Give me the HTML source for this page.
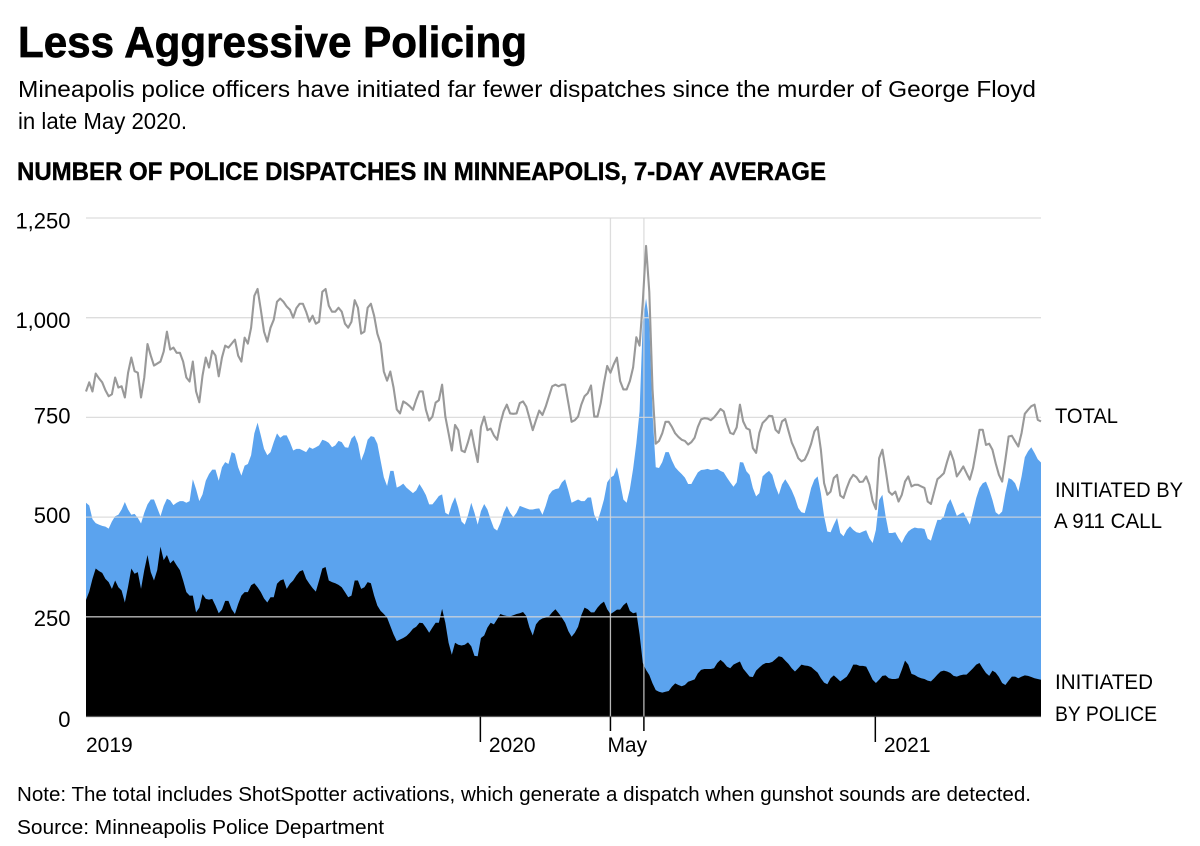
<!DOCTYPE html>
<html lang="en">
<head>
<meta charset="utf-8">
<title>Less Aggressive Policing</title>
<style>
html,body{margin:0;padding:0;background:#fff;width:1200px;height:846px;overflow:hidden}
svg{display:block;font-family:"Liberation Sans",sans-serif;fill:#000}
</style>
</head>
<body>
<svg id="chart" width="1200" height="846" viewBox="0 0 1200 846" xmlns="http://www.w3.org/2000/svg">
  <rect x="0" y="0" width="1200" height="846" fill="#ffffff"/>
  <text x="18" y="57" font-size="44" font-weight="700" stroke="#000" stroke-width="0.7" textLength="509" lengthAdjust="spacingAndGlyphs">Less Aggressive Policing</text>
  <text x="18" y="97" font-size="23" textLength="1018" lengthAdjust="spacingAndGlyphs">Mineapolis police officers have initiated far fewer dispatches since the murder of George Floyd</text>
  <text x="18" y="129" font-size="23" textLength="169" lengthAdjust="spacingAndGlyphs">in late May 2020.</text>
  <text x="17" y="180" font-size="25" font-weight="700" stroke="#000" stroke-width="0.4" textLength="809" lengthAdjust="spacingAndGlyphs">NUMBER OF POLICE DISPATCHES IN MINNEAPOLIS, 7-DAY AVERAGE</text>
  <g id="areas"></g>
  <g id="grid"></g>
  <g id="line"></g>
  <g id="axes"></g>
  <text x="1055" y="423" font-size="21" textLength="63" lengthAdjust="spacingAndGlyphs">TOTAL</text>
  <text x="1055" y="497" font-size="21" textLength="128" lengthAdjust="spacingAndGlyphs">INITIATED BY</text>
  <text x="1054" y="528" font-size="21" textLength="108" lengthAdjust="spacingAndGlyphs">A 911 CALL</text>
  <text x="1055" y="689" font-size="21" textLength="98" lengthAdjust="spacingAndGlyphs">INITIATED</text>
  <text x="1055" y="721" font-size="21" textLength="102" lengthAdjust="spacingAndGlyphs">BY POLICE</text>
  <text x="17" y="801" font-size="20.5" textLength="1014" lengthAdjust="spacingAndGlyphs">Note: The total includes ShotSpotter activations, which generate a dispatch when gunshot sounds are detected.</text>
  <text x="17" y="834" font-size="20.5" textLength="367" lengthAdjust="spacingAndGlyphs">Source: Minneapolis Police Department</text>
</svg>
<script>
// One reading every 3 days, starting 1 Jan 2019.
const sampleStepDays = 3;
const totalDispatches = [815,838,815,860,848,838,818,803,808,850,825,828,800,862,900,866,862,800,850,934,905,880,885,890,915,965,920,925,912,912,890,850,840,890,815,788,855,900,875,917,905,853,900,930,925,935,945,905,890,950,935,975,1055,1072,1020,965,940,975,995,1040,1048,1040,1028,1020,1000,1024,1035,1035,1015,990,1005,985,990,1065,1072,1030,1015,1015,1025,1015,985,975,990,1044,1025,960,965,1025,1035,1005,960,935,865,842,865,825,770,760,790,785,778,769,794,815,815,769,742,752,787,793,832,752,710,667,731,718,667,663,688,718,676,638,726,752,718,722,705,694,735,765,782,760,759,760,786,790,777,748,718,743,767,756,777,803,828,832,828,832,832,786,739,743,752,782,803,811,830,752,752,786,836,879,862,883,900,841,820,820,841,875,951,930,1040,1180,1065,820,684,691,710,739,739,726,710,701,694,691,682,688,699,726,745,748,747,743,750,760,771,765,735,711,708,725,782,740,723,719,673,661,711,736,744,754,753,719,711,740,746,716,687,669,648,640,644,661,684,715,726,669,585,556,564,598,606,554,548,573,594,606,600,588,589,602,581,540,520,648,669,619,564,556,564,539,556,589,602,577,581,581,577,573,539,533,564,595,602,610,639,665,642,602,614,627,610,594,623,669,719,719,681,684,669,635,606,589,644,702,704,690,677,711,759,769,778,782,744,740];
const callInitiated = [536,529,495,485,481,478,476,471,489,502,506,519,538,519,506,508,498,484,511,532,544,544,523,502,528,546,542,530,536,540,540,536,540,595,570,540,557,591,608,619,619,591,625,638,633,663,659,625,604,629,633,655,710,737,705,671,655,663,688,710,699,705,705,688,667,671,671,667,663,675,671,675,680,694,691,686,675,680,691,688,675,674,697,705,684,642,663,694,703,701,684,642,600,578,616,616,574,578,584,574,567,560,567,583,570,555,532,532,542,553,557,511,506,532,550,523,489,481,505,536,511,481,515,533,519,494,472,466,485,511,528,511,500,511,528,525,522,519,519,521,522,506,528,555,566,570,572,587,595,567,536,540,544,540,540,549,549,506,489,515,544,587,599,604,625,587,544,536,570,621,685,765,990,1048,990,760,625,623,638,663,663,642,625,616,608,599,583,583,598,612,618,619,621,618,619,621,616,612,599,587,576,587,638,637,615,606,573,552,560,602,610,616,606,577,556,582,595,582,567,548,523,512,510,539,573,594,602,560,502,464,462,481,498,460,452,468,477,468,462,460,464,467,447,435,468,543,556,502,460,460,462,447,435,452,464,470,474,472,472,470,446,441,468,493,493,502,531,545,525,503,508,512,497,481,514,548,573,585,589,569,543,512,506,514,560,598,594,585,564,602,650,665,675,661,645,637];
const policeInitiated = [292,313,345,371,365,360,345,337,320,341,324,316,286,326,371,358,362,320,367,405,362,341,367,426,392,405,384,392,379,367,341,312,303,303,261,273,307,295,293,295,278,259,268,290,290,269,257,282,303,312,312,329,334,324,312,296,286,299,299,333,341,344,320,333,341,354,364,367,345,333,322,313,341,371,375,341,337,334,330,324,312,299,303,341,341,320,324,337,334,303,278,265,257,248,227,206,189,193,197,202,210,220,225,235,234,223,210,223,235,235,270,235,185,155,185,180,178,180,186,176,152,151,197,203,223,235,231,244,257,254,252,251,254,257,259,262,252,223,203,231,241,246,248,251,261,269,259,248,235,214,200,210,225,254,273,269,261,261,273,282,288,269,257,262,268,268,279,286,265,259,261,206,134,117,104,83,66,62,60,62,64,75,83,79,76,79,87,90,93,108,117,119,119,119,121,134,142,135,125,121,130,134,138,120,110,100,99,115,123,130,134,134,137,144,151,149,140,132,121,113,121,130,128,127,124,117,110,96,85,81,96,103,96,88,94,100,113,130,130,127,127,125,109,92,84,92,102,103,96,94,94,96,117,140,130,107,104,99,96,94,90,88,96,105,113,115,113,109,102,100,103,105,105,113,121,130,134,121,109,102,115,110,99,84,79,90,100,100,96,100,103,102,99,96,94,92];
const yTickValues = [0,250,500,750,1000,1250];
const yTickLabels = ['0','250','500','750','1,000','1,250'];
const xTickLabels = ['2019','2020','May','2021'];
const xTickDays = [0,365,486,731];
const monthEndDay = 517;

const plotLeft = 86, plotRight = 1041, plotTop = 218, plotBottom = 716.5;
const lastDay = (totalDispatches.length - 1) * sampleStepDays;
const xScale = function (day) { return plotLeft + (day / lastDay) * (plotRight - plotLeft); };
const yScale = function (value) { return plotBottom - (value / 1250) * (plotBottom - plotTop); };
const svgNS = 'http://www.w3.org/2000/svg';

function make(tag, parentId, attrs) {
  const el = document.createElementNS(svgNS, tag);
  Object.keys(attrs).forEach(function (k) { el.setAttribute(k, attrs[k]); });
  document.getElementById(parentId).appendChild(el);
  return el;
}
function linePath(values) {
  return values.map(function (v, i) {
    return (i ? 'L' : 'M') + xScale(i * sampleStepDays).toFixed(2) + ' ' + yScale(v).toFixed(2);
  }).join('');
}
function areaPath(values) {
  return linePath(values) + 'L' + xScale(lastDay).toFixed(2) + ' ' + yScale(0) + 'L' + xScale(0) + ' ' + yScale(0) + 'Z';
}

const blueArea = make('path', 'areas', { d: areaPath(callInitiated), fill: '#5ba3ee' });


const blackArea = make('path', 'areas', { d: areaPath(policeInitiated), fill: '#000000' });



yTickValues.forEach(function (value, i) {
  if (value !== 0) {
    const grid = make('line', 'grid', { x1: plotLeft, x2: plotRight, y1: yScale(value), y2: yScale(value), stroke: 'rgba(215,215,215,0.85)', 'stroke-width': 1.3 });
    
    
  }
  const baselineNudge = (value === 500 || value === 750) ? 6 : (value === 250 ? 9 : 10.5);
  const label = make('text', 'axes', { x: 70.5, y: yScale(value) + baselineNudge, 'font-size': 22, 'text-anchor': 'end' });
  label.textContent = yTickLabels[i];
  
  
});

[xTickDays[2], monthEndDay].forEach(function (day) {
  const band = make('line', 'grid', { x1: xScale(day), x2: xScale(day), y1: plotTop, y2: plotBottom, stroke: 'rgba(215,215,215,0.85)', 'stroke-width': 1.3 });
  
  
  const tick = make('line', 'axes', { x1: xScale(day), x2: xScale(day), y1: plotBottom, y2: 731, stroke: '#000', 'stroke-width': 1.5 });
  
  
});

const totalLine = make('path', 'line', { d: linePath(totalDispatches), fill: 'none', stroke: '#999999', 'stroke-width': 2.1, 'stroke-linejoin': 'round' });



const baseline = make('line', 'axes', { x1: plotLeft, x2: plotRight, y1: plotBottom, y2: plotBottom, stroke: '#555', 'stroke-width': 1.3 });



xTickLabels.forEach(function (text, i) {
  const day = xTickDays[i];
  if (text !== 'May' && day !== 0) {
    const tick = make('line', 'axes', { x1: xScale(day) + 0.5, x2: xScale(day) + 0.5, y1: plotBottom, y2: 742, stroke: '#000', 'stroke-width': 1.5 });
    
    
  }
  const offset = text === 'May' ? -3 : (day === 0 ? 0 : 9);
  const label = make('text', 'axes', { x: xScale(day) + offset, y: 752, 'font-size': 21 });
  label.textContent = text;
  
  
});
</script>
</body>
</html>
